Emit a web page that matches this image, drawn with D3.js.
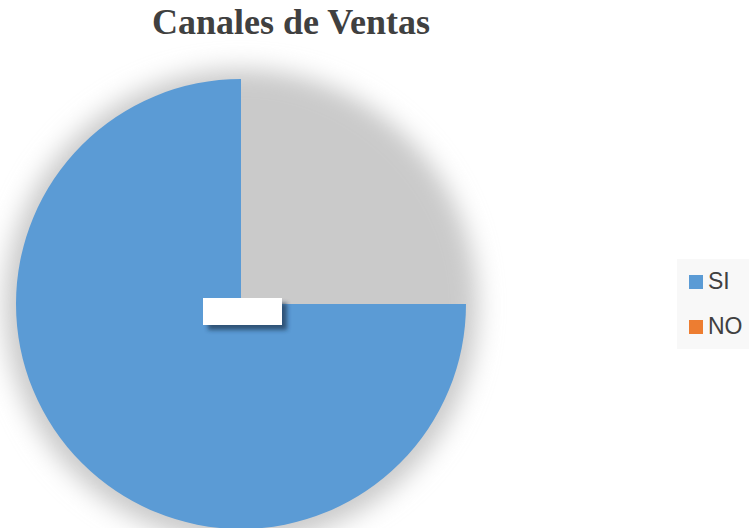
<!DOCTYPE html>
<html>
<head>
<meta charset="utf-8">
<script src="https://cdn.jsdelivr.net/npm/d3@7"></script>
<style>
  html, body { margin: 0; padding: 0; background: #fff; }
  svg { display: block; }
</style>
</head>
<body>
<div id="chart"></div>
<script>
const categories = ["SI", "NO"];
const values = [75, 25];
const colors = ["#5B9BD5", "#ED7D31"];
const titleText = "Canales de Ventas";

const width = 749, height = 528;
const cx = 241, cy = 304, radius = 225;

const svg = d3.select('#chart').append('svg')
    .attr('width', width)
    .attr('height', height);

const defs = svg.append('defs');
const blur = defs.append('filter')
    .attr('id', 'pieShadow')
    .attr('x', '-20%').attr('y', '-20%')
    .attr('width', '140%').attr('height', '140%');
blur.append('feGaussianBlur').attr('stdDeviation', 12);

const labelShadow = defs.append('filter')
    .attr('id', 'labelShadow')
    .attr('x', '-30%').attr('y', '-50%')
    .attr('width', '160%').attr('height', '200%');
labelShadow.append('feGaussianBlur').attr('stdDeviation', 2);

// title
svg.append('text')
    .attr('x', 291)
    .attr('y', 34)
    .attr('text-anchor', 'middle')
    .style('font-family', '"Liberation Serif", "Times New Roman", serif')
    .style('font-weight', 'bold')
    .style('font-size', '36px')
    .style('fill', '#404040')
    .text(titleText);

// first slice starts at 3 o'clock and runs clockwise
const pie = d3.pie().sort(null).value(d => d)
    .startAngle(Math.PI / 2)
    .endAngle(Math.PI / 2 + 2 * Math.PI)(values);
const arc = d3.arc().innerRadius(0).outerRadius(radius);

const g = svg.append('g')
    .attr('transform', 'translate(' + cx + ',' + cy + ')');

// soft shadow under the whole pie
g.append('circle')
    .attr('r', radius + 12)
    .attr('cy', 2)
    .style('fill', '#cacaca')
    .attr('filter', 'url(#pieShadow)');

// slices: the NO slice is present but unfilled, letting the shadow show
g.selectAll('.slice')
    .data(pie)
    .enter().append('path')
    .attr('class', 'slice')
    .attr('d', arc)
    .style('fill', (d, i) => i === 0 ? colors[i] : 'none');

// empty data label box
const label = g.append('g')
    .attr('transform', 'translate(-38,-6)');
label.append('rect')
    .attr('x', 5).attr('y', 5)
    .attr('width', 79).attr('height', 27)
    .style('fill', '#1f3550')
    .style('opacity', 0.7)
    .attr('filter', 'url(#labelShadow)');
label.append('rect')
    .attr('x', 0).attr('y', 0)
    .attr('width', 79).attr('height', 27)
    .style('fill', '#ffffff');

// legend
const legend = svg.append('g')
    .attr('transform', 'translate(677,259)');
legend.append('rect')
    .attr('width', 80).attr('height', 90)
    .style('fill', '#f8f8f8');

const items = legend.selectAll('.legend')
    .data(categories)
    .enter().append('g')
    .attr('class', 'legend')
    .attr('transform', (d, i) => 'translate(12,' + (16 + i * 45) + ')');
items.append('rect')
    .attr('width', 14).attr('height', 14)
    .style('fill', (d, i) => colors[i]);
items.append('text')
    .attr('x', 19)
    .attr('y', 14)
    .style('font-family', '"Liberation Sans", Arial, sans-serif')
    .style('font-size', '23px')
    .style('fill', '#404040')
    .text(d => d);
</script>
</body>
</html>
